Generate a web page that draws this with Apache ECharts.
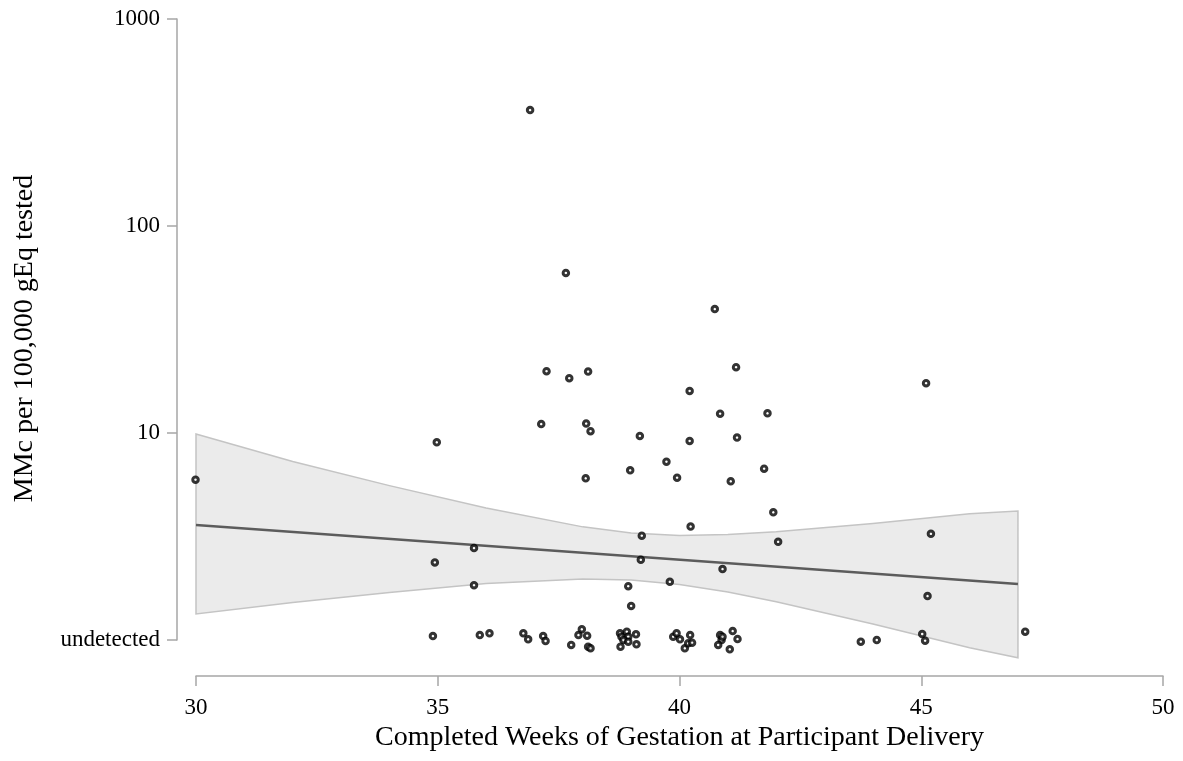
<!DOCTYPE html>
<html>
<head>
<meta charset="utf-8">
<script src="https://cdn.jsdelivr.net/npm/echarts@6/dist/echarts.min.js"></script>
<style>
  html, body { margin: 0; padding: 0; background: #ffffff; }
  #chart { width: 1183px; height: 761px; }
</style>
</head>
<body>
<div id="chart"></div>
<script>
// ---- Data ----
const xTicks = [30, 35, 40, 45, 50];
const yTicks = [1, 10, 100, 1000]; // 1 is shown as "undetected"

// detected samples (week, MMc per 100,000 gEq)
const detectedWeeks = [29.99, 34.98, 34.94, 35.75, 35.75, 36.91, 37.14, 37.25, 37.65, 37.72,
  38.06, 38.07, 38.11, 38.16, 38.94, 38.98, 39.00, 39.18, 39.20, 39.22,
  39.73, 39.80, 39.95, 40.21, 40.21, 40.23, 40.73, 40.84, 40.89, 41.06,
  41.17, 41.19, 41.75, 41.82, 41.94, 42.04, 45.10, 45.20, 45.13];
const detectedValues = [5.95, 9.02, 2.37, 2.78, 1.84, 363, 11.05, 19.9, 59.3, 18.4,
  6.04, 11.1, 19.8, 10.2, 1.82, 6.6, 1.46, 9.68, 2.44, 3.19,
  7.27, 1.91, 6.08, 15.96, 9.15, 3.53, 39.7, 12.4, 2.20, 5.84,
  20.8, 9.5, 6.72, 12.45, 4.14, 2.98, 17.4, 3.26, 1.63];

// undetected samples (plotted with vertical jitter around the "undetected" line)
const undetectedWeeks = [34.90, 35.87, 36.07, 36.77, 36.87, 37.18, 37.23, 37.76, 37.91, 37.98,
  38.09, 38.11, 38.16, 38.77, 38.80, 38.91, 38.94, 38.84, 38.94, 38.78,
  39.10, 39.11, 39.87, 39.94, 40.01, 40.11, 40.22, 40.18, 40.26, 40.84,
  40.87, 40.80, 41.04, 41.10, 41.20, 40.89, 43.75, 44.08, 45.02, 45.08, 47.15];
const undetectedValues = [1.045, 1.057, 1.077, 1.077, 1.008, 1.045, 0.989, 0.946, 1.057, 1.126,
  1.049, 0.928, 0.912, 1.077, 1.037, 1.097, 1.037, 1.000, 0.981, 0.928,
  1.065, 0.953, 1.037, 1.077, 1.008, 0.912, 1.057, 0.964, 0.970, 1.057,
  1.000, 0.946, 0.902, 1.105, 1.011, 1.037, 0.981, 1.000, 1.069, 0.992, 1.097];

// fitted line and confidence band
const fitWeeks = [30, 47];
const fitValues = [3.59, 1.865];
const bandWeeks = [30, 32, 34, 36, 38, 39, 40, 41, 42, 44, 46, 47];
const bandUpper = [9.89, 7.28, 5.57, 4.34, 3.52, 3.29, 3.20, 3.23, 3.33, 3.65, 4.07, 4.20];
const bandLower = [1.335, 1.519, 1.698, 1.873, 1.971, 1.951, 1.854, 1.706, 1.531, 1.196, 0.918, 0.821];

// ---- Build series data ----
const scatterData = detectedWeeks.map((w, i) => [w, detectedValues[i]])
  .concat(undetectedWeeks.map((w, i) => [w, undetectedValues[i]]));
const fitData = fitWeeks.map((w, i) => [w, fitValues[i]]);

const FONT = "'Liberation Serif', 'Times New Roman', serif";
const AXIS_GRAY = '#a6a6a6';

const chart = echarts.init(document.getElementById('chart'), null, { renderer: 'canvas' });

chart.setOption({
  backgroundColor: '#ffffff',
  animation: false,
  grid: { left: 196, right: 20, top: 19, bottom: 121, containLabel: false },
  xAxis: {
    type: 'value',
    min: xTicks[0],
    max: xTicks[xTicks.length - 1],
    interval: 5,
    offset: 36,
    name: 'Completed Weeks of Gestation at Participant Delivery',
    nameLocation: 'middle',
    nameGap: 38,
    nameTextStyle: { fontFamily: FONT, fontSize: 28, color: '#000' },
    axisLine: { show: true, lineStyle: { color: AXIS_GRAY, width: 1.5 } },
    axisTick: { show: true, length: 10, lineStyle: { color: AXIS_GRAY, width: 1.5 } },
    axisLabel: { fontFamily: FONT, fontSize: 23, color: '#000', margin: 20 },
    splitLine: { show: false }
  },
  yAxis: {
    type: 'log',
    logBase: 10,
    min: yTicks[0],
    max: yTicks[yTicks.length - 1],
    offset: 19,
    name: 'MMc per 100,000 gEq tested',
    nameLocation: 'middle',
    nameGap: 138,
    nameRotate: 90,
    nameTextStyle: { fontFamily: FONT, fontSize: 28, color: '#000', padding: [0, 18, 0, 0] },
    axisLine: { show: true, lineStyle: { color: AXIS_GRAY, width: 1.5 } },
    axisTick: { show: true, length: 10, lineStyle: { color: AXIS_GRAY, width: 1.5 } },
    axisLabel: {
      fontFamily: FONT, fontSize: 23, color: '#000', margin: 17,
      formatter: function (v) {
        const r = Math.round(v);
        return r === 1 ? 'undetected' : String(r);
      }
    },
    splitLine: { show: false }
  },
  series: [
    {
      type: 'custom',
      name: 'band',
      silent: true,
      clip: false,
      z: 1,
      data: [[bandWeeks[0], bandUpper[0]]],
      renderItem: function (params, api) {
        const upper = bandWeeks.map((w, i) => api.coord([w, bandUpper[i]]));
        const lower = bandWeeks.map((w, i) => api.coord([w, bandLower[i]])).reverse();
        const pts = upper.concat(lower);
        return {
          type: 'group',
          children: [
            { type: 'polygon', shape: { points: pts }, style: { fill: '#ebebeb', stroke: '#c4c4c4', lineWidth: 1.5 } }
          ]
        };
      }
    },
    {
      type: 'line',
      name: 'fit',
      data: fitData,
      showSymbol: false,
      symbol: 'none',
      clip: false,
      z: 2,
      lineStyle: { color: '#5c5c5c', width: 2.5 }
    },
    {
      type: 'scatter',
      name: 'MMc',
      data: scatterData,
      clip: false,
      z: 3,
      symbol: 'circle',
      symbolSize: 5.5,
      itemStyle: { color: '#ffffff', borderColor: '#000000', borderWidth: 3 }
    }
  ]
});
</script>
</body>
</html>
